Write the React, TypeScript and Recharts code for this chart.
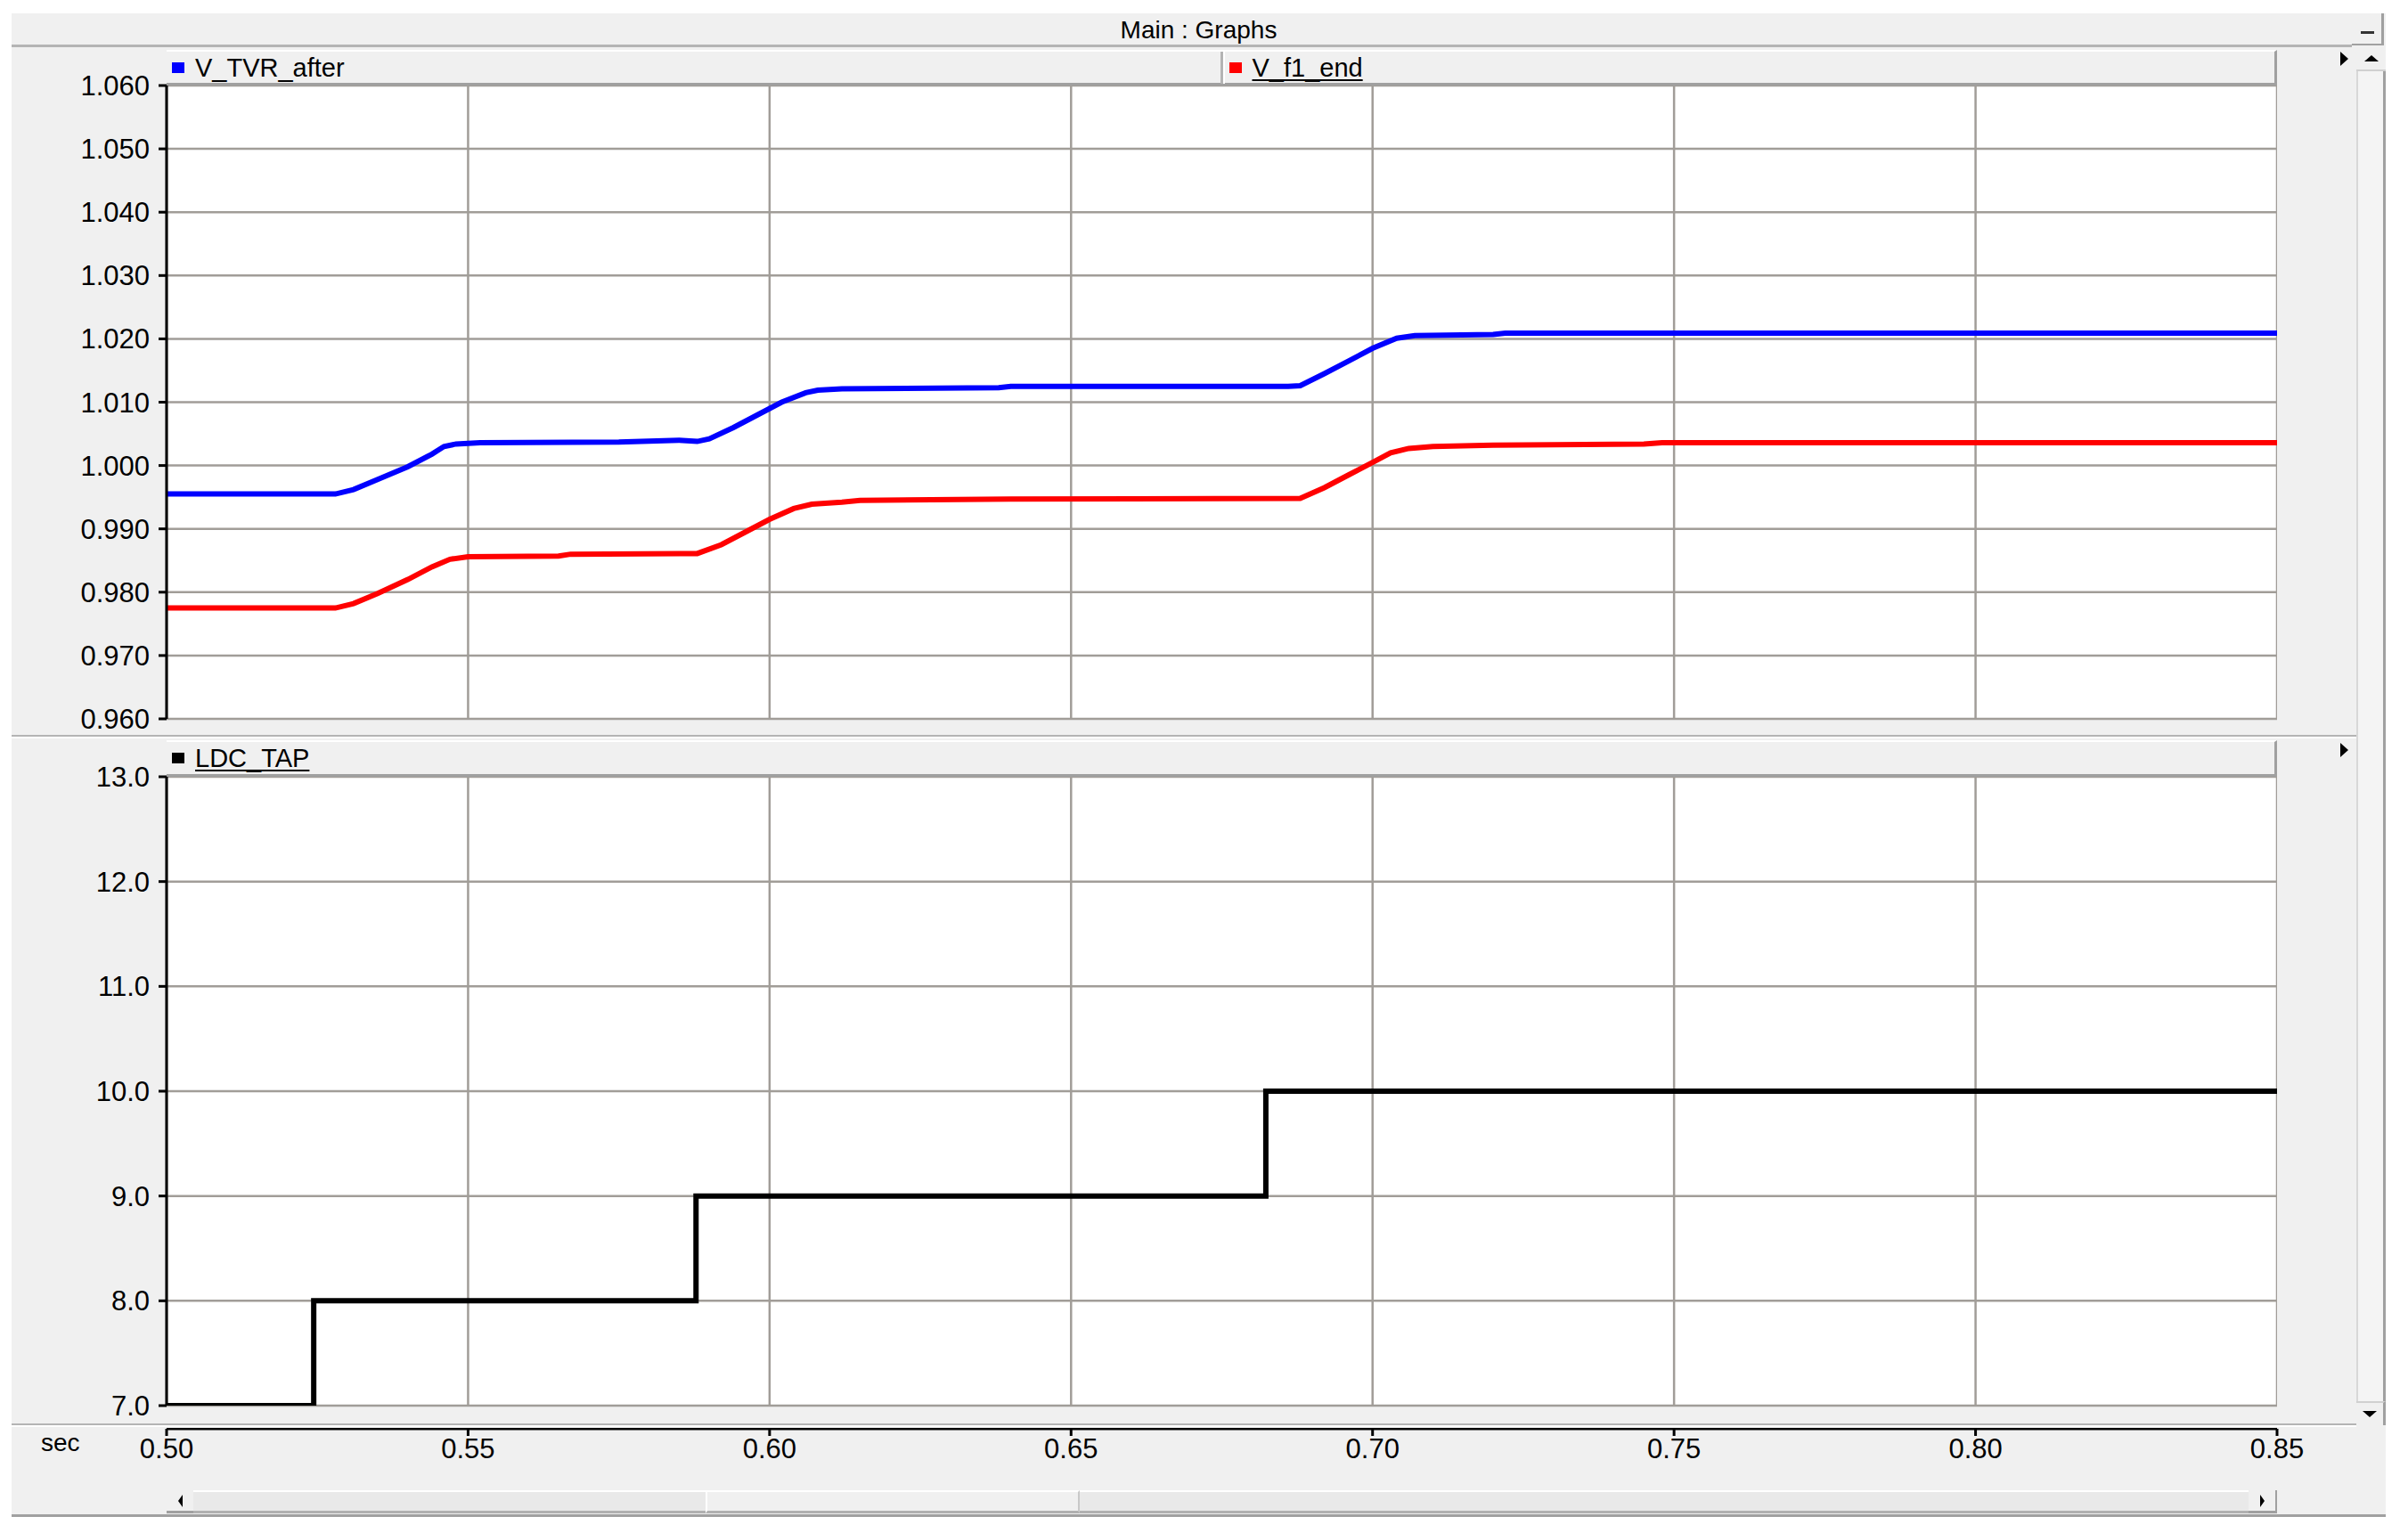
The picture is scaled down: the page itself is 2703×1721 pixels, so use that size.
import { LineChart, Line, XAxis, YAxis, CartesianGrid } from "recharts";

// time axis (sec)
const xTicks = [0.5, 0.55, 0.6, 0.65, 0.7, 0.75, 0.8, 0.85];
const voltTicks = [0.96, 0.97, 0.98, 0.99, 1.0, 1.01, 1.02, 1.03, 1.04, 1.05, 1.06];
const tapTicks = [7, 8, 9, 10, 11, 12, 13];

// V_TVR_after (blue)
const tvrTime = [0.5, 0.528, 0.531, 0.535, 0.54, 0.544, 0.546, 0.548, 0.552, 0.575, 0.585, 0.588, 0.59, 0.594, 0.598, 0.602, 0.606, 0.608, 0.612, 0.638, 0.64, 0.686, 0.688, 0.692, 0.696, 0.7, 0.704, 0.707, 0.72, 0.722, 0.85];
const tvrValue = [0.9955, 0.9955, 0.9962, 0.9978, 0.9998, 1.0018, 1.003, 1.0034, 1.0036, 1.0037, 1.004, 1.0038, 1.0042, 1.006, 1.008, 1.01, 1.0115, 1.0119, 1.0121, 1.0123, 1.0125, 1.0125, 1.0126, 1.0145, 1.0165, 1.0185, 1.0201, 1.0205, 1.0207, 1.0209, 1.0209];

// V_f1_end (red)
const f1Time = [0.5, 0.528, 0.531, 0.535, 0.54, 0.544, 0.547, 0.55, 0.565, 0.567, 0.588, 0.592, 0.596, 0.6, 0.604, 0.607, 0.612, 0.615, 0.64, 0.688, 0.692, 0.696, 0.7, 0.703, 0.706, 0.71, 0.72, 0.745, 0.748, 0.85];
const f1Value = [0.9775, 0.9775, 0.9782, 0.9798, 0.982, 0.984, 0.9852, 0.9856, 0.9857, 0.986, 0.9861, 0.9875, 0.9895, 0.9915, 0.9932, 0.9939, 0.9942, 0.9945, 0.9947, 0.9948, 0.9965, 0.9985, 1.0005, 1.002, 1.0027, 1.003, 1.0032, 1.0034, 1.0036, 1.0036];

// LDC_TAP (black, step)
const tapTime = [0.5, 0.5244, 0.5878, 0.6823, 0.85];
const tapValue = [7, 8, 9, 10, 10];

const tvrData = tvrTime.map((t, i) => ({ t, v: tvrValue[i] }));
const f1Data = f1Time.map((t, i) => ({ t, v: f1Value[i] }));
const tapData = tapTime.map((t, i) => ({ t, v: tapValue[i] }));

const FONT = "'Liberation Sans', Arial, sans-serif";
const PL = 187;
const PR = 2556;
const T1 = 96;
const B1 = 807;
const T2 = 872;
const B2 = 1578;
const PAD = 26;

const tickStyle = { fontSize: 31, fill: "#000", fontFamily: FONT };
const gridColor = "#a19d98";

function Box({ s, children }: { s: React.CSSProperties; children?: React.ReactNode }) {
    return <div style={{ position: "absolute", boxSizing: "border-box", ...s }}>{children}</div>;
}

function LegendItem({ x, color, label, underline }: { x: number; color: string; label: string; underline?: boolean }) {
    return (
        <div style={{ position: "absolute", left: x, top: 0, height: 36, display: "flex", alignItems: "center" }}>
            <div style={{ width: 14, height: 12, background: color, marginRight: 12 }} />
            <span style={{ fontSize: 29, fontFamily: FONT, color: "#000", textDecoration: underline ? "underline" : "none", textUnderlineOffset: 3 }}>
                {label}
            </span>
        </div>
    );
}

export default function App() {
    return (
        <div style={{ position: "absolute", left: 0, top: 0, width: 2703, height: 1721, background: "#fff", overflow: "hidden" }}>
            {/* window */}
            <Box s={{ left: 13, top: 15, width: 2665, height: 1688, background: "#f0f0f0", borderBottom: "3px solid #a0a0a0" }} />
            {/* title bar */}
            <Box s={{ left: 13, top: 15, width: 2627, height: 38, borderBottom: "3px solid #b4b4b4" }} />
            <Box s={{ left: 13, top: 15, width: 2665, height: 38, display: "flex", alignItems: "center", justifyContent: "center", fontFamily: FONT, fontSize: 28, color: "#000" }}>
                Main : Graphs
            </Box>
            <Box s={{ left: 2640, top: 15, width: 36, height: 36, borderRight: "3px solid #a0a0a0", borderBottom: "2px solid #a0a0a0" }}>
                <div style={{ position: "absolute", left: 10, top: 20, width: 15, height: 3, background: "#333" }} />
            </Box>

            {/* plot backgrounds */}
            <Box s={{ left: PL, top: T1, width: PR - PL, height: B1 - T1, background: "#fff" }} />
            <Box s={{ left: PL, top: T2, width: PR - PL, height: B2 - T2, background: "#fff" }} />

            {/* panel dividers */}
            <Box s={{ left: 13, top: 825, width: 2632, height: 4, borderTop: "2px solid #b4b4b4", borderBottom: "2px solid #fff" }} />
            <Box s={{ left: 13, top: 1598, width: 2632, height: 4, borderTop: "2px solid #b4b4b4", borderBottom: "2px solid #fff" }} />

            {/* top chart */}
            <div style={{ position: "absolute", left: 0, top: T1 - PAD }}>
                <LineChart width={PR} height={B1 - T1 + 2 * PAD} margin={{ top: PAD, right: 0, bottom: PAD, left: 0 }}>
                    <CartesianGrid stroke={gridColor} strokeWidth={2.5} />
                    <XAxis type="number" dataKey="t" domain={[0.5, 0.85]} ticks={xTicks} allowDataOverflow hide />
                    <YAxis
                        type="number"
                        domain={[0.96, 1.06]}
                        ticks={voltTicks}
                        interval={0}
                        allowDataOverflow
                        width={PL}
                        tick={tickStyle}
                        tickFormatter={(v: number) => v.toFixed(3)}
                        axisLine={{ stroke: "#000", strokeWidth: 3 }}
                        tickLine={{ stroke: "#000", strokeWidth: 3 }}
                        tickSize={9}
                        tickMargin={10}
                    />
                    <Line data={f1Data} dataKey="v" type="linear" stroke="#ff0000" strokeWidth={6} dot={false} isAnimationActive={false} />
                    <Line data={tvrData} dataKey="v" type="linear" stroke="#0000ff" strokeWidth={6} dot={false} isAnimationActive={false} />
                </LineChart>
            </div>

            {/* bottom chart */}
            <div style={{ position: "absolute", left: 0, top: T2 - PAD }}>
                <LineChart width={PR} height={B2 - T2 + 2 * PAD} margin={{ top: PAD, right: 0, bottom: PAD, left: 0 }}>
                    <CartesianGrid stroke={gridColor} strokeWidth={2.5} />
                    <XAxis type="number" dataKey="t" domain={[0.5, 0.85]} ticks={xTicks} allowDataOverflow hide />
                    <YAxis
                        type="number"
                        domain={[7, 13]}
                        ticks={tapTicks}
                        interval={0}
                        allowDataOverflow
                        width={PL}
                        tick={tickStyle}
                        tickFormatter={(v: number) => v.toFixed(1)}
                        axisLine={{ stroke: "#000", strokeWidth: 3 }}
                        tickLine={{ stroke: "#000", strokeWidth: 3 }}
                        tickSize={9}
                        tickMargin={10}
                    />
                    <Line data={tapData} dataKey="v" type="stepAfter" stroke="#000" strokeWidth={6} dot={false} isAnimationActive={false} />
                </LineChart>
            </div>

            {/* time axis */}
            <div style={{ position: "absolute", left: 0, top: 1603 }}>
                <LineChart width={PR + 40} height={62} data={xTicks.map(t => ({ t }))} margin={{ top: 0, right: 40, bottom: 0, left: PL }}>
                    <YAxis hide domain={[0, 1]} />
                    <XAxis
                        type="number"
                        dataKey="t"
                        domain={[0.5, 0.85]}
                        ticks={xTicks}
                        interval={0}
                        height={61}
                        tick={tickStyle}
                        tickFormatter={(v: number) => v.toFixed(2)}
                        axisLine={{ stroke: "#000", strokeWidth: 3 }}
                        tickLine={{ stroke: "#000", strokeWidth: 3 }}
                        tickSize={8}
                        tickMargin={3}
                    />
                </LineChart>
            </div>
            <Box s={{ left: 46, top: 1604, fontFamily: FONT, fontSize: 28, color: "#000" }}>sec</Box>

            {/* legend bars */}
            <Box s={{ left: PL, top: 56, width: PR - PL, height: 40, background: "#f0f0f0", borderTop: "2px solid #fff", borderBottom: "3px solid #a0a0a0", borderRight: "3px solid #a0a0a0" }}>
                <LegendItem x={6} color="#0000ff" label="V_TVR_after" />
                <div style={{ position: "absolute", left: (PR - PL) / 2 - 2, top: 0, width: 3, height: 36, background: "#b4b4b4", borderRight: "2px solid #fff" }} />
                <LegendItem x={(PR - PL) / 2 + 8} color="#ff0000" label="V_f1_end" underline />
            </Box>
            <Box s={{ left: PL, top: 831, width: PR - PL, height: 41, background: "#f0f0f0", borderTop: "2px solid #fff", borderBottom: "3px solid #a0a0a0", borderRight: "3px solid #a0a0a0" }}>
                <LegendItem x={6} color="#000" label="LDC_TAP" underline />
            </Box>

            {/* small expand arrows */}
            <Box s={{ left: 2627, top: 58, width: 0, height: 0, borderTop: "8px solid transparent", borderBottom: "8px solid transparent", borderLeft: "9px solid #000" }} />
            <Box s={{ left: 2627, top: 834, width: 0, height: 0, borderTop: "8px solid transparent", borderBottom: "8px solid transparent", borderLeft: "9px solid #000" }} />

            {/* vertical scrollbar */}
            <Box s={{ left: 2645, top: 53, width: 33, height: 1547, background: "#f4f4f4", borderLeft: "2px solid #d8d8d8", borderRight: "3px solid #a0a0a0" }} />
            <Box s={{ left: 2645, top: 53, width: 33, height: 27, background: "#f0f0f0", borderBottom: "2px solid #d0d0d0", display: "flex", alignItems: "center", justifyContent: "center" }}>
                <div style={{ width: 0, height: 0, borderLeft: "8px solid transparent", borderRight: "8px solid transparent", borderBottom: "7px solid #000" }} />
            </Box>
            <Box s={{ left: 2645, top: 1573, width: 33, height: 27, background: "#f0f0f0", borderTop: "2px solid #d0d0d0", borderRight: "3px solid #a0a0a0", display: "flex", alignItems: "center", justifyContent: "center" }}>
                <div style={{ width: 0, height: 0, borderLeft: "8px solid transparent", borderRight: "8px solid transparent", borderTop: "7px solid #000" }} />
            </Box>

            {/* horizontal scrollbar */}
            <Box s={{ left: PL, top: 1673, width: PR - PL, height: 26, background: "#e9e9e9", borderTop: "2px solid #fff", borderBottom: "3px solid #b0b0b0" }} />
            <Box s={{ left: 792, top: 1673, width: 420, height: 26, background: "#f0f0f0", borderTop: "2px solid #fff", borderBottom: "3px solid #b0b0b0", borderLeft: "2px solid #fff", borderRight: "2px solid #c8c8c8" }} />
            <Box s={{ left: PL, top: 1673, width: 30, height: 26, background: "#f0f0f0", borderBottom: "3px solid #a0a0a0", display: "flex", alignItems: "center", justifyContent: "center" }}>
                <div style={{ width: 0, height: 0, borderTop: "7px solid transparent", borderBottom: "7px solid transparent", borderRight: "5px solid #000" }} />
            </Box>
            <Box s={{ left: PR - 32, top: 1673, width: 32, height: 26, background: "#f0f0f0", borderBottom: "3px solid #a0a0a0", borderRight: "2px solid #a0a0a0", display: "flex", alignItems: "center", justifyContent: "center" }}>
                <div style={{ width: 0, height: 0, borderTop: "7px solid transparent", borderBottom: "7px solid transparent", borderLeft: "5px solid #000" }} />
            </Box>
        </div>
    );
}
